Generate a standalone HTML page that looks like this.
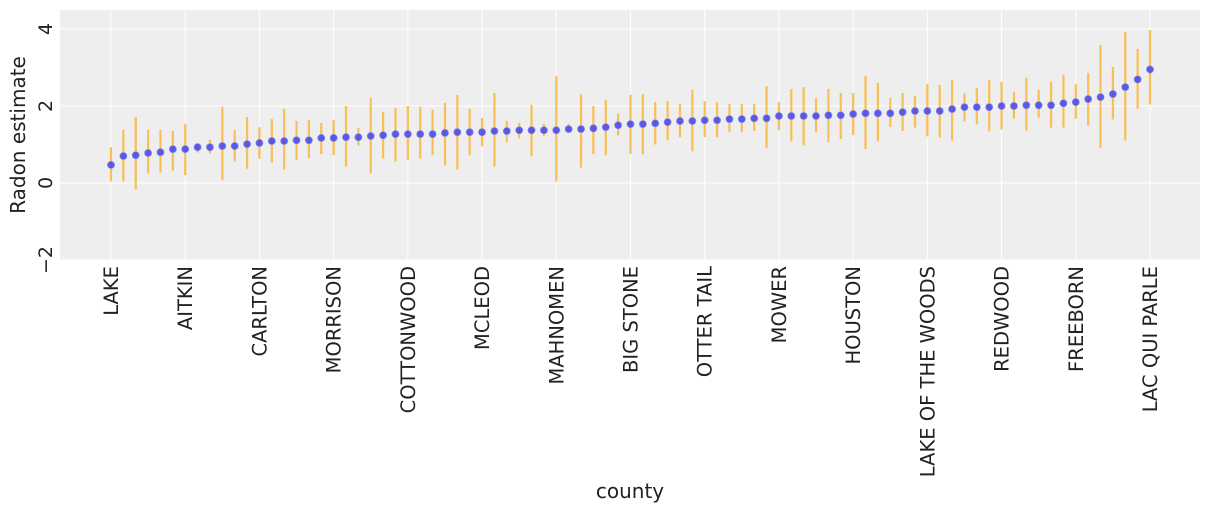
<!DOCTYPE html>
<html><head><meta charset="utf-8"><style>
body{margin:0;background:#fff;font-family:"Liberation Sans","DejaVu Sans",sans-serif}
svg text{font-family:"DejaVu Sans","Liberation Sans",sans-serif;fill:#222}
</style></head><body>
<svg id="c" width="1211" height="511" xmlns="http://www.w3.org/2000/svg"></svg>
<script>
const means=[0.47,0.70,0.72,0.78,0.80,0.88,0.88,0.93,0.93,0.96,0.96,1.01,1.04,1.09,1.09,1.11,1.11,1.17,1.17,1.19,1.19,1.22,1.24,1.27,1.27,1.27,1.27,1.30,1.32,1.32,1.32,1.35,1.35,1.37,1.37,1.37,1.37,1.40,1.40,1.42,1.45,1.50,1.53,1.53,1.55,1.58,1.61,1.61,1.63,1.63,1.66,1.66,1.68,1.68,1.74,1.74,1.74,1.74,1.76,1.76,1.79,1.81,1.81,1.81,1.84,1.87,1.87,1.87,1.92,1.97,1.97,1.97,2.00,2.00,2.02,2.02,2.02,2.07,2.10,2.18,2.23,2.31,2.49,2.69,2.95];
const lows=[0.04,0.04,-0.17,0.25,0.27,0.32,0.20,0.79,0.77,0.07,0.56,0.37,0.63,0.53,0.35,0.60,0.65,0.75,0.72,0.43,0.97,0.25,0.64,0.56,0.60,0.64,0.72,0.46,0.35,0.72,0.95,0.43,1.06,1.16,0.69,1.21,0.04,1.32,0.40,0.75,0.72,1.24,0.75,0.75,1.00,1.11,1.19,0.82,1.19,1.19,1.32,1.32,1.35,0.90,1.37,1.08,0.98,1.32,1.06,1.14,1.24,0.88,1.08,1.45,1.35,1.44,1.21,1.18,1.10,1.60,1.52,1.34,1.39,1.67,1.36,1.70,1.44,1.44,1.67,1.49,0.92,1.65,1.10,1.93,2.04];
const highs=[0.93,1.38,1.71,1.38,1.38,1.35,1.54,1.04,1.12,1.98,1.38,1.71,1.45,1.66,1.93,1.61,1.64,1.56,1.64,2.00,1.43,2.21,1.85,1.95,2.00,1.98,1.90,2.08,2.29,1.93,1.69,2.34,1.61,1.56,2.03,1.54,2.78,1.54,2.31,2.00,2.16,1.80,2.29,2.31,2.10,2.13,2.05,2.42,2.13,2.10,2.05,2.05,2.05,2.52,2.10,2.44,2.49,2.21,2.44,2.34,2.34,2.78,2.60,2.21,2.34,2.26,2.57,2.55,2.68,2.32,2.47,2.68,2.63,2.37,2.73,2.42,2.63,2.81,2.57,2.86,3.58,3.01,3.92,3.48,3.97];
const tickLabels=["LAKE","AITKIN","CARLTON","MORRISON","COTTONWOOD","MCLEOD","MAHNOMEN","BIG STONE","OTTER TAIL","MOWER","HOUSTON","LAKE OF THE WOODS","REDWOOD","FREEBORN","LAC QUI PARLE"];
const yTicks=[-2,0,2,4];
const NS="http://www.w3.org/2000/svg",svg=document.getElementById('c');
const L=60,R=1200,T=10,B=260;
const X=i=>111+i*(1039/84);
const Y=v=>183-v*38.5;
function mk(t,a){const e=document.createElementNS(NS,t);for(const k in a)e.setAttribute(k,a[k]);svg.appendChild(e);return e;}
const bg=mk('rect',{x:L,y:T,width:R-L,height:B-T,fill:'#eeeeee'});


yTicks.forEach(v=>{
 const g=mk('line',{x1:L,x2:R,y1:Y(v),y2:Y(v),stroke:'#fff','stroke-width':1});
 
 
 const t=mk('text',{x:0,y:0,'font-size':19,'text-anchor':'middle',transform:`translate(52,${Y(v)}) rotate(-90)`});
 t.textContent=v<0?'\u2212'+(-v):String(v);
 
 
});
tickLabels.forEach((s,k)=>{
 const x=X(k*6);
 const g=mk('line',{x1:x,x2:x,y1:T,y2:B,stroke:'#fff','stroke-width':1});
 
 
 const t=mk('text',{x:0,y:0,'font-size':19.5,'text-anchor':'end',transform:`translate(${x+7},266) rotate(-90)`});
 t.textContent=s;
 
 
});
means.forEach((m,i)=>{
 const b=mk('line',{x1:X(i),x2:X(i),y1:Y(lows[i]),y2:Y(highs[i]),stroke:'#f9b943','stroke-opacity':0.9,'stroke-width':2.2});
 
 
});
means.forEach((m,i)=>{
 const p=mk('circle',{cx:X(i),cy:Y(m),r:3.6,fill:'#4b4be8','fill-opacity':0.9,stroke:'#8c8cf0','stroke-width':0.6});
 
 
});
const yt=mk('text',{x:0,y:0,'font-size':20,'text-anchor':'middle',transform:`translate(25,135) rotate(-90)`});
yt.textContent='Radon estimate';


const xt=mk('text',{x:630,y:498,'font-size':20,'text-anchor':'middle'});
xt.textContent='county';


</script>
</body></html>
